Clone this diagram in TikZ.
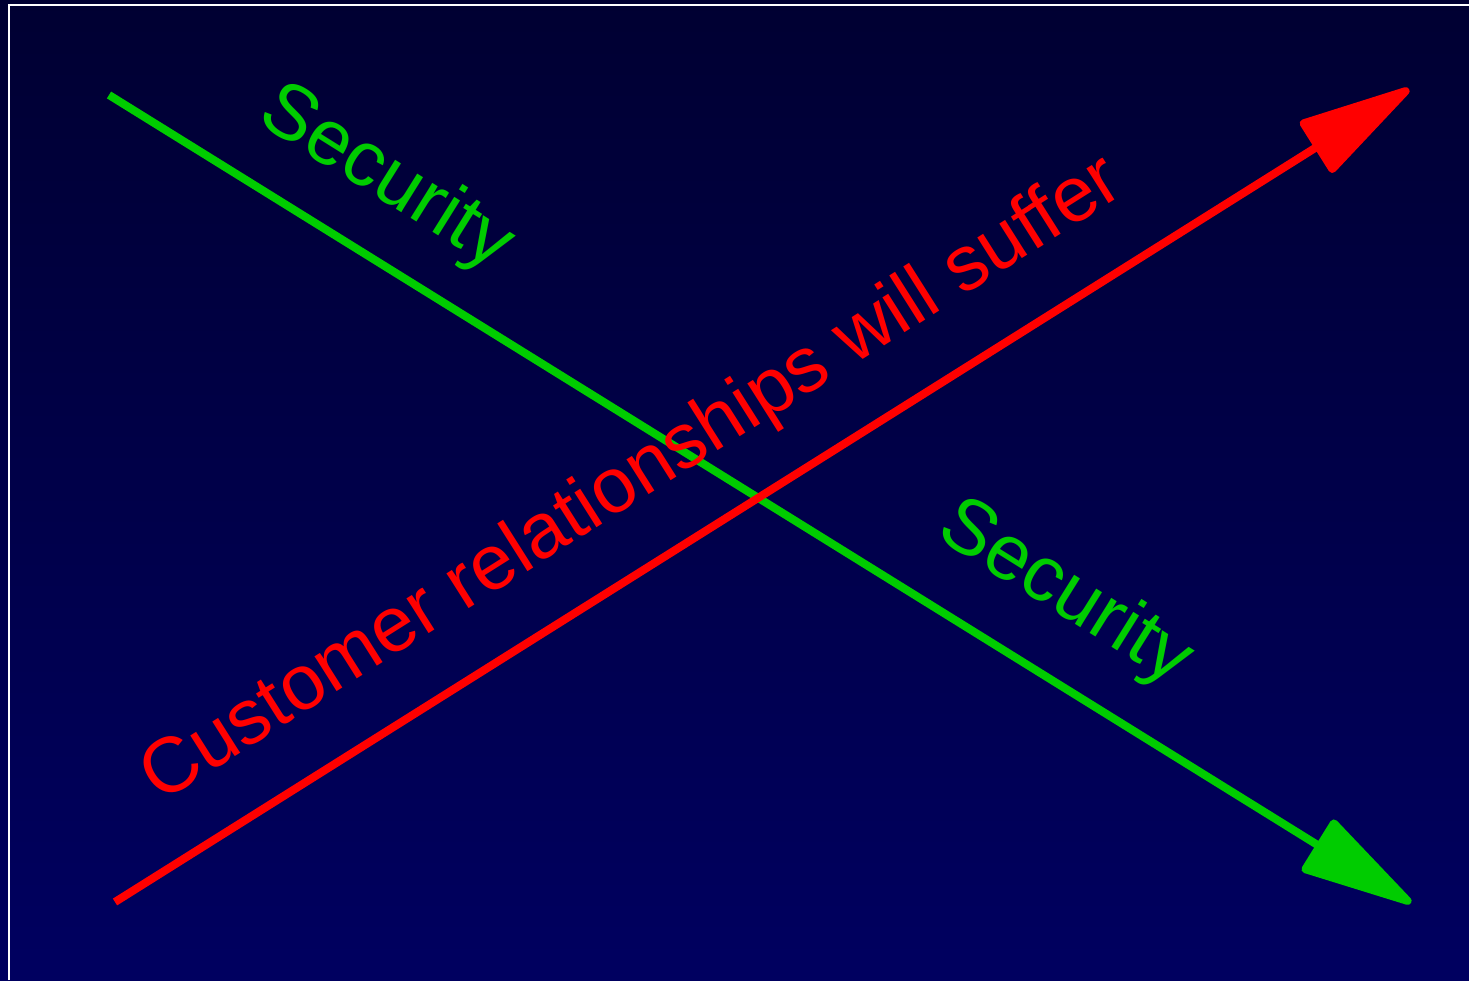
\documentclass[tikz,border=0pt]{standalone}
\usepackage{fontspec}
\setmainfont{Liberation Sans}
\usetikzlibrary{arrows.meta}
\definecolor{bgtop}{RGB}{0,0,50}
\definecolor{bgbot}{RGB}{0,0,96}
\definecolor{grn}{RGB}{0,204,0}
\definecolor{rd}{RGB}{255,0,0}
\tikzset{
  arr/.style={line width=8pt, -{Triangle[length=124pt,width=62pt,round]}},
  lbl/.style={font=\fontsize{78}{92}\selectfont, inner sep=0pt}
}
\begin{document}
\begin{tikzpicture}[x=1pt,y=1pt]
\shade[top color=bgtop, bottom color=bgbot] (0,0) rectangle (1469,980);
\useasboundingbox (0,0) rectangle (1469,980);
\draw[white, line width=2pt] (9,0) -- (9,975) -- (1469,975);
\coordinate (rs) at (115,78);
\coordinate (re) at (1409,891);
\coordinate (gs) at (109,885);
\coordinate (ge) at (1411,77);
\draw[arr, grn] (gs) -- (ge);
\draw[arr, rd] (rs) -- (re);
\node[lbl, text=grn, rotate=-32] (s1) at (386,801) {Security};
\node[lbl, text=grn, rotate=-32] (s2) at (1065,386) {Security};
\node[lbl, text=rd, rotate=32.3] (cr) at (633,499) {Customer relationships will suffer};
\end{tikzpicture}
\end{document}
